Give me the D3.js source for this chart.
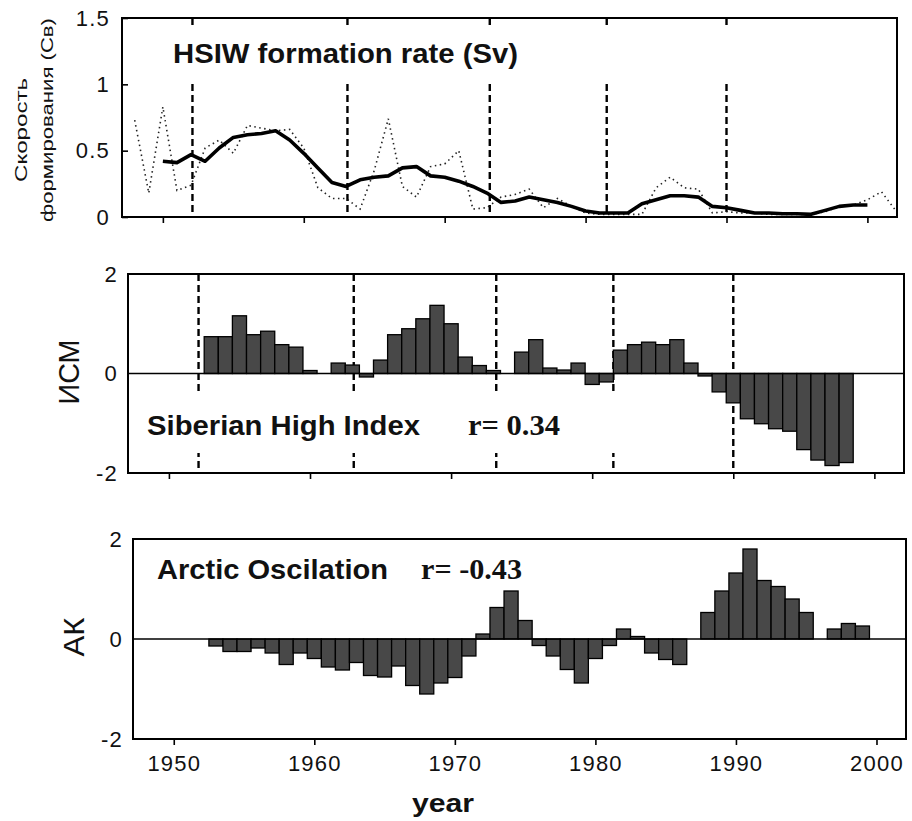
<!DOCTYPE html>
<html>
<head>
<meta charset="utf-8">
<script src="https://cdn.jsdelivr.net/npm/d3@7"></script>
<style>
  body { margin: 0; background: #fff; }
  svg { display: block; }
</style>
</head>
<body>
<svg id="chart" width="912" height="821"></svg>
<script>
// HSIW formation rate (Sv): annual values from 1948 (dotted)
const rawStart = 1948;
const rawRate = [0.73, 0.18, 0.83, 0.20, 0.24, 0.52, 0.58, 0.48, 0.69, 0.67,
                 0.65, 0.66, 0.52, 0.22, 0.14, 0.14, 0.06, 0.35, 0.74, 0.23,
                 0.15, 0.38, 0.40, 0.50, 0.06, 0.07, 0.15, 0.17, 0.21, 0.07,
                 0.14, 0.08, 0.03, 0.02, 0.02, 0.02, 0.02, 0.22, 0.30, 0.22,
                 0.21, 0.03, 0.04, 0.03, 0.03, 0.02, 0.02, 0.02, 0.02, 0.04,
                 0.08, 0.09, 0.13, 0.19, 0.05];

// HSIW formation rate, running mean from 1950 (solid)
const smoothStart = 1950;
const smoothRate = [0.42, 0.41, 0.47, 0.42, 0.52, 0.60, 0.62, 0.63, 0.65, 0.58,
                    0.48, 0.37, 0.26, 0.23, 0.28, 0.30, 0.31, 0.37, 0.38, 0.31,
                    0.30, 0.27, 0.23, 0.18, 0.11, 0.12, 0.15, 0.13, 0.11, 0.08,
                    0.045, 0.03, 0.03, 0.03, 0.10, 0.13, 0.16, 0.16, 0.15, 0.08,
                    0.07, 0.05, 0.03, 0.03, 0.025, 0.025, 0.02, 0.05, 0.08, 0.09,
                    0.09];

// Siberian High Index, 1953-1998
const sihStart = 1953;
const sihIndex = [0.74, 0.74, 1.16, 0.78, 0.85, 0.58, 0.53, 0.06, 0.0, 0.21,
                  0.17, -0.07, 0.27, 0.78, 0.90, 1.10, 1.37, 1.00, 0.33, 0.16,
                  0.06, 0.0, 0.43, 0.68, 0.11, 0.07, 0.21, -0.22, -0.17, 0.47,
                  0.58, 0.63, 0.58, 0.68, 0.21, -0.05, -0.37, -0.59, -0.91, -1.01,
                  -1.11, -1.16, -1.53, -1.74, -1.85, -1.79];

// Arctic Oscillation index, 1953-1999
const aoStart = 1953;
const aoIndex = [-0.14, -0.25, -0.25, -0.18, -0.28, -0.51, -0.28, -0.39, -0.56, -0.62,
                 -0.47, -0.73, -0.76, -0.54, -0.93, -1.10, -0.88, -0.77, -0.34, 0.10,
                 0.63, 0.96, 0.37, -0.13, -0.34, -0.61, -0.88, -0.39, -0.13, 0.20,
                 0.05, -0.28, -0.41, -0.51, 0.0, 0.53, 0.96, 1.32, 1.80, 1.17,
                 1.05, 0.80, 0.53, 0.0, 0.20, 0.31, 0.26];

// Regime-shift years marked by dashed lines
const regimeShifts = [1952.1, 1963.1, 1973.2, 1981.5, 1990.0];

const yearTicks = [1950, 1960, 1970, 1980, 1990, 2000];
const rateTicks = [0, 0.5, 1, 1.5];
const indexTicks = [-2, 0, 2];

const toPoints = (start, vals) => vals.map((v, i) => ({ year: start + i, value: v }));

const svg = d3.select("#chart");
const tickFont = "'Liberation Sans', Arial, sans-serif";
const yearDomain = [1947.1, 2002.1];
const plainNumber = d => String(d);

const panels = {
  rate: { left: 122, right: 897, top: 18, bottom: 217, domain: [0, 1.5] },
  sih:  { left: 128, right: 904, top: 274, bottom: 473, domain: [-2, 2] },
  ao:   { left: 133, right: 906, top: 539, bottom: 739, domain: [-2, 2] }
};
for (const p of Object.values(panels)) {
  p.x = d3.scaleLinear().domain(yearDomain).range([p.left, p.right]);
  p.y = d3.scaleLinear().domain(p.domain).range([p.bottom, p.top]);
}

function styleTicks(g) {
  g.attr("font-size", null).attr("font-family", null);
  g.select(".domain").remove();
  g.selectAll("line").attr("stroke", "#000").attr("stroke-width", 1.6);
  g.selectAll("text")
    .style("font-family", tickFont)
    .style("font-size", "22px")
    .style("letter-spacing", "1.2px")
    .attr("fill", "#111");
}

function drawFrame(p) {
  svg.append("rect")
    .attr("x", p.left).attr("y", p.top)
    .attr("width", p.right - p.left).attr("height", p.bottom - p.top)
    .attr("fill", "none").attr("stroke", "#000").attr("stroke-width", 2);
}

function drawShifts(p) {
  svg.append("g").selectAll("line")
    .data(regimeShifts).join("line")
    .attr("x1", d => p.x(d)).attr("x2", d => p.x(d))
    .attr("y1", p.top).attr("y2", p.bottom)
    .attr("stroke", "#000").attr("stroke-width", 2.4)
    .attr("stroke-dasharray", "7,4");
}

function drawBars(p, data) {
  svg.append("g").selectAll("rect")
    .data(data).join("rect")
    .attr("x", d => p.x(d.year - 0.5))
    .attr("width", d => p.x(d.year + 0.5) - p.x(d.year - 0.5))
    .attr("y", d => p.y(Math.max(0, d.value)))
    .attr("height", d => Math.abs(p.y(d.value) - p.y(0)))
    .attr("fill", "#484848")
    .attr("stroke", "#000").attr("stroke-width", 1.3);
  svg.append("line")
    .attr("x1", p.left).attr("x2", p.right)
    .attr("y1", p.y(0)).attr("y2", p.y(0))
    .attr("stroke", "#000").attr("stroke-width", 1.6);
}

function label(txt, x, y, opts) {
  const t = svg.append("text")
    .attr("x", x).attr("y", y)
    .attr("font-family", opts.family || "'Liberation Sans', Arial, sans-serif")
    .attr("font-size", opts.size)
    .attr("font-weight", opts.weight || "normal")
    .attr("fill", "#111")
    .text(txt);
  if (opts.length) t.attr("textLength", opts.length).attr("lengthAdjust", "spacingAndGlyphs");
  if (opts.rotate) t.attr("transform", `rotate(-90,${x},${y})`).attr("text-anchor", "middle");
  return t;
}

// ---- Panel 1: HSIW formation rate ----
{
  const p = panels.rate;
  drawShifts(p);
  // blank band behind the title
  svg.append("rect").attr("x", p.left + 1).attr("y", 27)
    .attr("width", p.right - p.left - 2).attr("height", 56).attr("fill", "#fff");

  const line = d3.line().x(d => p.x(d.year)).y(d => p.y(d.value));
  svg.append("path").datum(toPoints(rawStart, rawRate))
    .attr("d", line).attr("fill", "none")
    .attr("stroke", "#222").attr("stroke-width", 1.6)
    .attr("stroke-dasharray", "1.5,3.5");
  svg.append("path").datum(toPoints(smoothStart, smoothRate))
    .attr("d", line).attr("fill", "none")
    .attr("stroke", "#000").attr("stroke-width", 3.6)
    .attr("stroke-linejoin", "round");

  svg.append("g").attr("transform", `translate(0,${p.bottom})`)
    .call(d3.axisBottom(p.x).tickValues(yearTicks).tickSizeInner(6).tickSizeOuter(0).tickFormat(""))
    .call(styleTicks);
  svg.append("g").attr("transform", `translate(${p.left},0)`)
    .call(d3.axisLeft(p.y).tickValues(rateTicks).tickSizeInner(-6).tickSizeOuter(0)
      .tickPadding(12).tickFormat(plainNumber))
    .call(styleTicks);
  drawFrame(p);

  label("HSIW formation rate (Sv)", 173, 63, { size: 27, weight: "bold", length: 345 });
  label("Скорость", 27, 130, { size: 16, rotate: true, length: 104 });
  label("формирования (Св)", 53, 120, { size: 16, rotate: true, length: 204 });
}

// ---- Panel 2: Siberian High Index ----
{
  const p = panels.sih;
  drawShifts(p);
  svg.append("rect").attr("x", p.left + 1).attr("y", 393)
    .attr("width", 520).attr("height", 60).attr("fill", "#fff");
  drawBars(p, toPoints(sihStart, sihIndex));

  svg.append("g").attr("transform", `translate(0,${p.bottom})`)
    .call(d3.axisBottom(p.x).tickValues(yearTicks).tickSizeInner(6).tickSizeOuter(0).tickFormat(""))
    .call(styleTicks);
  svg.append("g").attr("transform", `translate(${p.left},0)`)
    .call(d3.axisLeft(p.y).tickValues(indexTicks).tickSize(0).tickPadding(10).tickFormat(plainNumber))
    .call(styleTicks);
  drawFrame(p);

  label("Siberian High Index", 147, 435, { size: 27, weight: "bold", length: 273 });
  label("r= 0.34", 468, 435, { size: 29, weight: "bold", length: 92,
    family: "'Liberation Serif', 'Times New Roman', serif" });
  label("ИСМ", 79, 372, { size: 30, rotate: true, length: 65 });
}

// ---- Panel 3: Arctic Oscillation ----
{
  const p = panels.ao;
  drawBars(p, toPoints(aoStart, aoIndex));

  svg.append("g").attr("transform", `translate(0,${p.bottom})`)
    .call(d3.axisBottom(p.x).tickValues(yearTicks).tickSizeInner(6).tickSizeOuter(0)
      .tickPadding(10).tickFormat(plainNumber))
    .call(styleTicks);
  svg.append("g").attr("transform", `translate(${p.left},0)`)
    .call(d3.axisLeft(p.y).tickValues(indexTicks).tickSize(0).tickPadding(10).tickFormat(plainNumber))
    .call(styleTicks);
  drawFrame(p);

  label("Arctic Oscilation", 157, 579, { size: 27, weight: "bold", length: 231 });
  label("r= -0.43", 421, 579, { size: 29, weight: "bold", length: 101,
    family: "'Liberation Serif', 'Times New Roman', serif" });
  label("АК", 84, 637, { size: 30, rotate: true, length: 39 });
  label("year", 412, 812, { size: 26, weight: "bold", length: 62 });
}
</script>
</body>
</html>
